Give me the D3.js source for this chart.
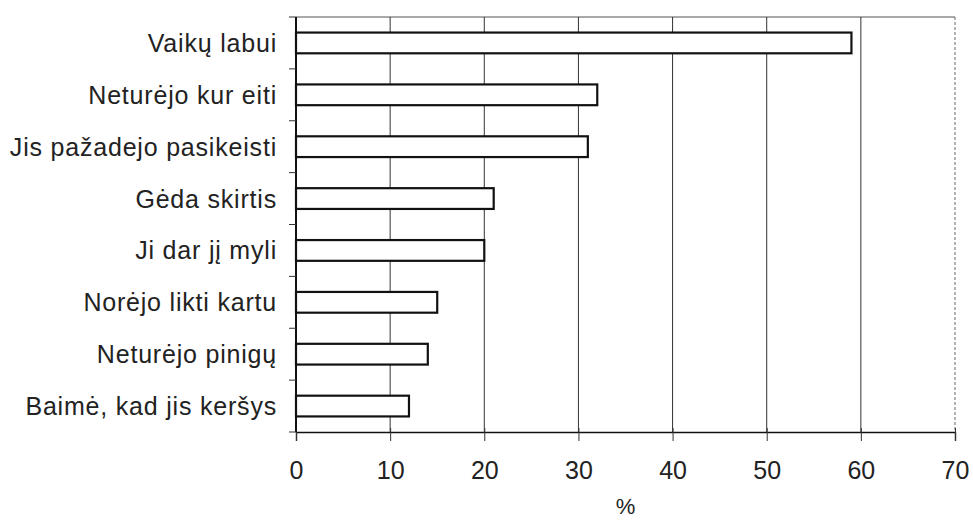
<!DOCTYPE html>
<html>
<head>
<meta charset="utf-8">
<script src="https://cdn.jsdelivr.net/npm/d3@7"></script>
<style>
  html, body { margin: 0; padding: 0; background: #fff; }
  svg { display: block; }
</style>
</head>
<body>
<svg id="chart" width="973" height="521"></svg>
<script>
const categories = [
  "Vaikų labui",
  "Neturėjo kur eiti",
  "Jis pažadejo pasikeisti",
  "Gėda skirtis",
  "Ji dar jį myli",
  "Norėjo likti kartu",
  "Neturėjo pinigų",
  "Baimė, kad jis keršys"
];
const values = [59, 32, 31, 21, 20, 15, 14, 12];
const xTicks = [0, 10, 20, 30, 40, 50, 60, 70];
const xAxisTitle = "%";

const svg = d3.select("#chart");
const margin = { left: 296, right: 18, top: 17, bottom: 89 };
const W = 973, H = 521;
const x = d3.scaleLinear().domain([0, 70]).range([margin.left, W - margin.right]);
const y = d3.scaleBand().domain(categories)
  .range([margin.top, H - margin.bottom])
  .paddingInner(0.6).paddingOuter(0.3);

const font = "'Liberation Sans', Arial, Helvetica, sans-serif";
const textColor = "#222";

// top border
svg.append("line")
  .attr("x1", x(0)).attr("x2", x(70))
  .attr("y1", margin.top).attr("y2", margin.top)
  .attr("stroke", "#555").attr("stroke-width", 1.2);

// vertical gridlines
svg.append("g").selectAll("line")
  .data(xTicks.filter(d => d > 0))
  .join("line")
  .attr("x1", d => x(d)).attr("x2", d => x(d))
  .attr("y1", margin.top).attr("y2", H - margin.bottom)
  .attr("stroke", d => d === 70 ? "#666" : "#333")
  .attr("stroke-width", 1)
  .attr("stroke-dasharray", d => d === 70 ? "3,2" : null);

// x axis
const xAxis = d3.axisBottom(x).tickValues(xTicks).tickSize(9).tickPadding(20);
const gx = svg.append("g")
  .attr("transform", `translate(0,${H - margin.bottom})`)
  .call(xAxis);
gx.select(".domain").attr("stroke", "#111").attr("stroke-width", 1.4);
gx.selectAll(".tick line").attr("stroke", "#333").attr("stroke-width", 1).attr("y1", -4);
gx.selectAll(".tick text")
  .attr("font-family", font).attr("font-size", 25).attr("fill", textColor);

// y axis line
svg.append("line")
  .attr("x1", x(0)).attr("x2", x(0))
  .attr("y1", margin.top).attr("y2", H - margin.bottom)
  .attr("stroke", "#111").attr("stroke-width", 2);

// y tick marks at band boundaries
const step = y.step();
const boundaries = d3.range(categories.length + 1).map(i => margin.top + i * step);
svg.append("g").selectAll("line")
  .data(boundaries)
  .join("line")
  .attr("x1", x(0) - 7).attr("x2", x(0))
  .attr("y1", d => d).attr("y2", d => d)
  .attr("stroke", "#333").attr("stroke-width", 1);

// category labels
svg.append("g").selectAll("text")
  .data(categories)
  .join("text")
  .attr("x", x(0) - 19)
  .attr("y", d => y(d) + y.bandwidth() / 2)
  .attr("dy", "0.36em")
  .attr("text-anchor", "end")
  .attr("font-family", font).attr("font-size", 25)
  .attr("letter-spacing", "0.8px")
  .attr("fill", textColor)
  .text(d => d);

// bars
svg.append("g").selectAll("rect")
  .data(categories.map((c, i) => ({ c, v: values[i] })))
  .join("rect")
  .attr("x", x(0))
  .attr("y", d => y(d.c))
  .attr("width", d => x(d.v) - x(0))
  .attr("height", y.bandwidth())
  .attr("fill", "#fff")
  .attr("stroke", "#111")
  .attr("stroke-width", 2.2);

// x-axis title
svg.append("text")
  .attr("x", (x(0) + x(70)) / 2)
  .attr("y", 514)
  .attr("text-anchor", "middle")
  .attr("font-family", font).attr("font-size", 22)
  .attr("fill", textColor)
  .text(xAxisTitle);
</script>
</body>
</html>
